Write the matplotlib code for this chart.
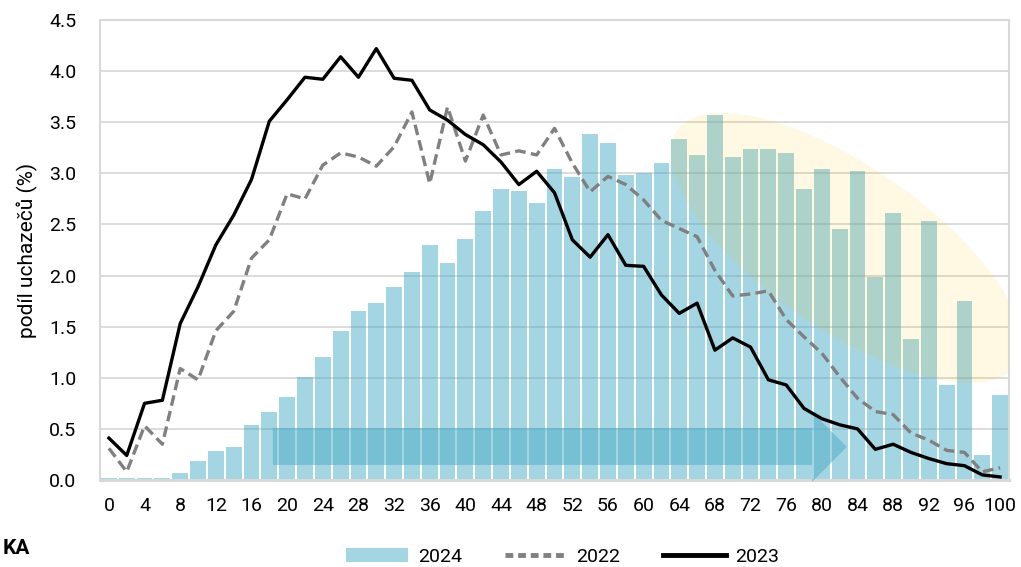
import matplotlib
matplotlib.use("Agg")
import matplotlib.pyplot as plt
from matplotlib.patches import Ellipse, Polygon, Patch
from matplotlib.lines import Line2D

# x categories: score 0..100 in steps of 2
scores = list(range(0, 101, 2))
tick_labels = [str(s) for s in range(0, 101, 4)]

share_2024 = [0.02, 0.02, 0.02, 0.02, 0.07, 0.19, 0.28, 0.32, 0.54, 0.67,
              0.81, 1.01, 1.20, 1.46, 1.65, 1.73, 1.89, 2.03, 2.30, 2.12,
              2.36, 2.63, 2.85, 2.83, 2.71, 3.04, 2.96, 3.38, 3.30, 2.98,
              3.00, 3.10, 3.34, 3.18, 3.57, 3.16, 3.24, 3.24, 3.20, 2.85,
              3.04, 2.46, 3.02, 1.99, 2.61, 1.38, 2.53, 0.93, 1.75, 0.24,
              0.83]
share_2022 = [0.31, 0.08, 0.53, 0.35, 1.09, 0.98, 1.46, 1.65, 2.17, 2.35,
              2.80, 2.75, 3.08, 3.20, 3.16, 3.07, 3.26, 3.60, 2.90, 3.65,
              3.12, 3.57, 3.18, 3.22, 3.18, 3.44, 3.10, 2.82, 2.97, 2.89,
              2.74, 2.54, 2.46, 2.38, 2.05, 1.80, 1.82, 1.85, 1.57, 1.40,
              1.24, 1.01, 0.80, 0.67, 0.64, 0.46, 0.39, 0.29, 0.27, 0.08,
              0.12]
share_2023 = [0.41, 0.24, 0.75, 0.78, 1.53, 1.89, 2.30, 2.59, 2.94, 3.51,
              3.72, 3.94, 3.92, 4.14, 3.94, 4.22, 3.93, 3.91, 3.62, 3.52,
              3.38, 3.28, 3.11, 2.89, 3.02, 2.81, 2.35, 2.18, 2.40, 2.10,
              2.09, 1.81, 1.63, 1.73, 1.27, 1.39, 1.30, 0.98, 0.93, 0.70,
              0.60, 0.54, 0.50, 0.30, 0.35, 0.27, 0.21, 0.16, 0.14, 0.05,
              0.03]

BAR = "#4BACC6"
GRID = "#D9D9D9"

plt.rcParams["font.family"] = ["Roboto", "DejaVu Sans"]

fig = plt.figure(figsize=(10.21, 5.67), dpi=100)
ax = fig.add_axes([100 / 1021, 87 / 567, 909 / 1021, 460 / 567])

ax.set_axisbelow(True)
ax.grid(axis="y", color=GRID, linewidth=1.3, zorder=0)
ax.bar(scores, share_2024, width=1.78, color=BAR, alpha=0.5, linewidth=0, zorder=2)

# blue arrow along the bottom
arrow = Polygon([(18.4, 0.147), (78.9, 0.147), (78.9, -0.02), (82.8, 0.325),
                 (78.9, 0.665), (78.9, 0.509), (18.4, 0.509)],
                closed=True, facecolor=BAR, alpha=0.5, linewidth=0,
                zorder=3, clip_on=False)
ax.add_patch(arrow)

# highlighted region (pale yellow ellipse), placed in figure inches
ell = Ellipse((8.46, 3.19), 4.12, 1.63, angle=-34.7,
              transform=fig.dpi_scale_trans, facecolor="#FFC000",
              alpha=0.11, linewidth=0, zorder=3)
ax.add_artist(ell)

ax.plot(scores, share_2022, color="#808080", linewidth=2.4,
        dashes=(3.2, 1.6), zorder=5)
ax.plot(scores, share_2023, color="black", linewidth=2.4, zorder=6)

ax.set_xlim(-1, 101)
ax.set_ylim(0, 4.5)
ax.set_yticks([0.5 * i for i in range(10)])
ax.set_yticklabels([f"{0.5 * i:.1f}" for i in range(10)])
ax.set_xticks(list(range(0, 101, 4)))
ax.set_xticklabels(tick_labels)
ax.tick_params(length=0, labelsize=14, colors="black")
ax.tick_params(axis="y", pad=17)
ax.tick_params(axis="x", pad=12)

for side, spine in ax.spines.items():
    spine.set_color(GRID)
    spine.set_linewidth(1.5)
ax.spines["bottom"].set_linewidth(2.2)

ax.set_ylabel("podíl uchazečů (%)", fontsize=15, labelpad=8)

fig.text(3 / 1021, (567 - 548) / 567, "KA", fontsize=15, fontweight="bold",
         ha="left", va="center")

handles = [
    Patch(facecolor=BAR, alpha=0.5, linewidth=0, label="2024"),
    Line2D([], [], color="#808080", linewidth=3.5, dashes=(1.6, 1.0), label="2022"),
    Line2D([], [], color="black", linewidth=3.5, label="2023"),
]
fig.legend(handles=handles, loc="center", bbox_to_anchor=(0.551, 0.018),
           ncol=3, frameon=False, fontsize=14, handlelength=3.2,
           handletextpad=0.5, columnspacing=2.2)

fig.savefig("out.png", dpi=100)
